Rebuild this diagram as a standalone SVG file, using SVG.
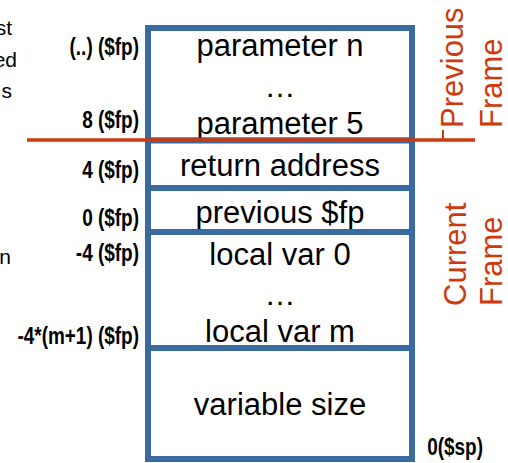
<svg xmlns="http://www.w3.org/2000/svg" width="508" height="463" viewBox="0 0 508 463">
<style>
.box{fill:#ffffff;stroke:#3a6a9e;stroke-width:6}
.bt{font-family:"Liberation Sans",Arial,sans-serif;font-size:31px;fill:#000;text-anchor:middle}
.lb{font-family:"Liberation Sans",Arial,sans-serif;font-weight:bold;font-size:24px;fill:#000;text-anchor:end}
.cut{font-family:"Liberation Sans",Arial,sans-serif;font-size:21px;fill:#000;text-anchor:end}
.fr{font-family:"Liberation Sans",Arial,sans-serif;font-size:31px;fill:#cc3a0e}
</style>
<rect width="508" height="463" fill="#ffffff"/>
<g id="cut-text">
<text class="cut" x="12" y="35">st</text>
<text class="cut" x="17" y="67">ed</text>
<text class="cut" x="12" y="98">s</text>
<text class="cut" x="11" y="264">n</text>
</g>
<g id="node-params">
<rect class="box" x="148" y="28" width="264" height="112.5"/>
<text class="bt" x="280" y="56">parameter n</text>
<text class="bt" x="280" y="97">…</text>
<text class="bt" x="280" y="134">parameter 5</text>
</g>
<g id="node-return">
<rect class="box" x="148" y="140.5" width="264" height="47.5"/>
<text class="bt" x="280" y="176">return address</text>
</g>
<g id="node-prevfp">
<rect class="box" x="148" y="188" width="264" height="44"/>
<text class="bt" x="280" y="223">previous $fp</text>
</g>
<g id="node-locals">
<rect class="box" x="148" y="232" width="264" height="116"/>
<text class="bt" x="280" y="265">local var 0</text>
<text class="bt" x="280" y="305">…</text>
<text class="bt" x="280" y="342">local var m</text>
</g>
<g id="node-variable">
<rect class="box" x="148" y="348" width="264" height="111"/>
<text class="bt" x="280" y="415">variable size</text>
</g>
<g id="labels">
<text class="lb" transform="translate(139,55) scale(0.79,1)">(..) ($fp)</text>
<text class="lb" transform="translate(139,128) scale(0.79,1)">8 ($fp)</text>
<text class="lb" transform="translate(139,178) scale(0.79,1)">4 ($fp)</text>
<text class="lb" transform="translate(139,226) scale(0.79,1)">0 ($fp)</text>
<text class="lb" transform="translate(139,261) scale(0.79,1)">-4 ($fp)</text>
<text class="lb" transform="translate(139,344) scale(0.79,1)">-4*(m+1) ($fp)</text>
<text class="lb" transform="translate(483,455) scale(0.79,1)">0($sp)</text>
</g>
<g id="connectors">
<line x1="27" y1="140" x2="475" y2="140" stroke="#cc3a0e" stroke-width="3.5"/>
<line x1="443" y1="130" x2="443" y2="140" stroke="#cc3a0e" stroke-width="2"/>
</g>
<g id="frames">
<text class="fr" transform="translate(463,128) rotate(-90)">Previous</text>
<text class="fr" transform="translate(502,128) rotate(-90)">Frame</text>
<text class="fr" transform="translate(466,306) rotate(-90)">Current</text>
<text class="fr" transform="translate(502,306) rotate(-90)">Frame</text>
</g>
</svg>
